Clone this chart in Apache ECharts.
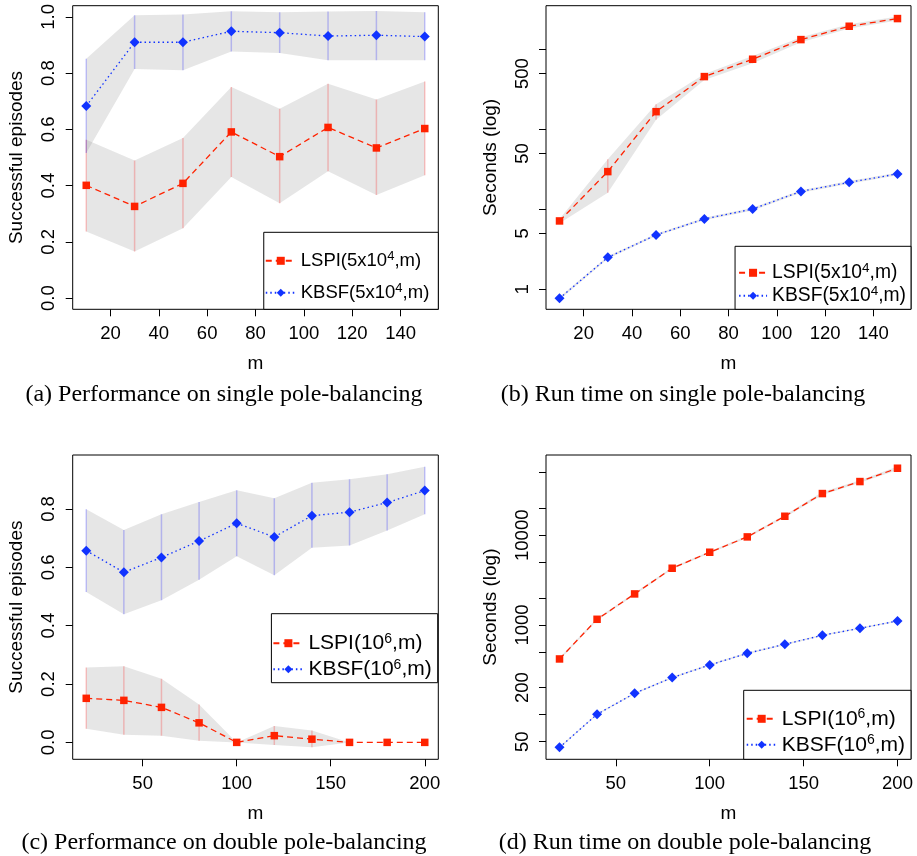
<!DOCTYPE html>
<html>
<head>
<meta charset="utf-8">
<script src="https://cdn.jsdelivr.net/npm/echarts@6/dist/echarts.min.js"></script>
<style>html,body{margin:0;padding:0;background:#fff}#c{width:917px;height:856px}</style>
</head>
<body>
<div id="c"></div>
<script>
// ---------- data ----------
const mSingle = [10, 30, 50, 70, 90, 110, 130, 150];
const mDouble = [20, 40, 60, 80, 100, 120, 140, 160, 180, 200];

// (a) performance, single pole
const lspiPerfA   = [0.401, 0.326, 0.408, 0.591, 0.503, 0.607, 0.534, 0.603];
const lspiPerfAHi = [0.563, 0.489, 0.569, 0.751, 0.673, 0.762, 0.706, 0.770];
const lspiPerfALo = [0.237, 0.166, 0.248, 0.431, 0.337, 0.451, 0.367, 0.437];
const kbsfPerfA   = [0.683, 0.910, 0.910, 0.949, 0.944, 0.932, 0.935, 0.930];
const kbsfPerfAHi = [0.851, 1.006, 1.009, 1.020, 1.017, 1.019, 1.021, 1.017];
const kbsfPerfALo = [0.516, 0.815, 0.810, 0.877, 0.872, 0.846, 0.846, 0.846];

// (b) run time, single pole (seconds)
const lspiTimeB   = [7.17, 29.7, 167, 459, 757, 1333, 1958, 2443];
const lspiTimeBHi = [7.6, 42.4, 207, 496, 832, 1426, 2073, 2587];
const lspiTimeBLo = [6.7, 16.2, 132, 417, 674, 1234, 1830, 2305];
const kbsfTimeB   = [0.771, 2.51, 4.79, 7.59, 10.1, 16.8, 21.8, 27.8];
const kbsfTimeBHi = [0.80, 2.60, 4.95, 7.85, 10.5, 17.4, 22.6, 28.8];
const kbsfTimeBLo = [0.74, 2.42, 4.63, 7.33, 9.7, 16.2, 21.0, 26.8];

// (c) performance, double pole
const lspiPerfC   = [0.151, 0.144, 0.120, 0.067, 0.0, 0.023, 0.011, 0.0, 0.0, 0.0];
const lspiPerfCHi = [0.257, 0.261, 0.218, 0.130, 0.0, 0.056, 0.041, 0.0, 0.0, 0.0];
const lspiPerfCLo = [0.047, 0.026, 0.023, 0.006, 0.0, -0.009, -0.017, 0.0, 0.0, 0.0];
const kbsfPerfC   = [0.657, 0.583, 0.634, 0.690, 0.751, 0.704, 0.777, 0.789, 0.822, 0.863];
const kbsfPerfCHi = [0.799, 0.728, 0.782, 0.824, 0.864, 0.837, 0.890, 0.902, 0.919, 0.945];
const kbsfPerfCLo = [0.515, 0.439, 0.487, 0.557, 0.638, 0.573, 0.667, 0.675, 0.726, 0.782];

// (d) run time, double pole (seconds)
const lspiTimeD   = [418, 1157, 2219, 4288, 6468, 9590, 16290, 29170, 39700, 55900];
const lspiTimeDHi = [430, 1190, 2280, 4400, 6650, 9850, 16800, 30300, 41000, 58500];
const lspiTimeDLo = [406, 1125, 2160, 4180, 6290, 9340, 15800, 28100, 38400, 53400];
const kbsfTimeD   = [43.2, 101, 173, 259, 358, 483, 609, 767, 918, 1109];
const kbsfTimeDHi = [44.2, 103, 177, 265, 366, 493, 622, 783, 937, 1132];
const kbsfTimeDLo = [42.2, 99, 169, 253, 350, 473, 596, 751, 899, 1086];

// tick values / labels
const xTicksSingle = [20, 40, 60, 80, 100, 120, 140];
const xTicksDouble = [50, 100, 150, 200];
const yTicksPerfA = [0.0, 0.2, 0.4, 0.6, 0.8, 1.0];
const yTicksPerfC = [0.0, 0.2, 0.4, 0.6, 0.8];
const yTicksTimeB = [1, 5, 10, 50, 100, 500, 1000];
const yLabelsTimeB = [1, 5, 50, 500];
const yTicksTimeD = [50, 100, 200, 500, 1000, 2000, 5000, 10000, 20000, 50000];
const yLabelsTimeD = [50, 200, 1000, 10000];

const seriesNamesSingle = ['LSPI(5x10^4,m)', 'KBSF(5x10^4,m)'];
const seriesNamesDouble = ['LSPI(10^6,m)', 'KBSF(10^6,m)'];
const captions = [
  '(a) Performance on single pole-balancing',
  '(b) Run time on single pole-balancing',
  '(c) Performance on double pole-balancing',
  '(d) Run time on double pole-balancing'
];

// ---------- styles ----------
const SANS = 'Liberation Sans, Arial, Helvetica, sans-serif';
const SERIF = 'Liberation Serif, Times New Roman, serif';
const RED = '#ff2200';
const BLUE = '#1133ff';
const RED_BAR = 'rgba(255,0,0,0.22)';
const BLUE_BAR = 'rgba(0,0,255,0.22)';
const BAND = 'rgba(128,128,128,0.2)';
const TICK_FS = 18.5;
const NAME_FS = 19;

const grids = [
  { left: 72.7, top: 5.7, width: 365.6, height: 303.6 },
  { left: 546, top: 5.7, width: 365, height: 303.6 },
  { left: 72.7, top: 455, width: 365.6, height: 304.3 },
  { left: 546, top: 455, width: 365, height: 304.3 }
].map(g => Object.assign({ show: true, borderColor: '#000', borderWidth: 1, backgroundColor: 'transparent', containLabel: false }, g));

function xAxisFor(gi, min, max, ticks) {
  return {
    type: 'value', gridIndex: gi, min: min, max: max, position: 'bottom',
    name: 'm', nameLocation: 'middle', nameGap: 45,
    nameTextStyle: { fontFamily: SANS, fontSize: NAME_FS, color: '#000' },
    axisLine: { show: false, onZero: false },
    splitLine: { show: false },
    axisTick: { show: true, inside: false, length: 7, customValues: ticks, lineStyle: { color: '#000', width: 1 } },
    axisLabel: { show: true, customValues: ticks, margin: 15, fontFamily: SANS, fontSize: TICK_FS, color: '#000' }
  };
}
function yAxisFor(gi, min, max, ticks, labels, name, fmt) {
  return {
    type: 'value', gridIndex: gi, min: min, max: max, position: 'left',
    name: name, nameLocation: 'middle', nameGap: 46, nameRotate: 90,
    nameTextStyle: { fontFamily: SANS, fontSize: NAME_FS, color: '#000' },
    axisLine: { show: false, onZero: false },
    splitLine: { show: false },
    axisTick: { show: true, inside: false, length: 7, customValues: ticks, lineStyle: { color: '#000', width: 1 } },
    axisLabel: { show: true, customValues: labels, rotate: 90, margin: 14, fontFamily: SANS, fontSize: TICK_FS, color: '#000', formatter: fmt }
  };
}
const log10 = v => Math.log10(v);
const powFmt = v => String(Math.round(Math.pow(10, v)));

const xAxes = [
  xAxisFor(0, 4.4, 155.6, xTicksSingle),
  xAxisFor(1, 4.4, 155.6, xTicksSingle),
  xAxisFor(2, 12.8, 207.2, xTicksDouble),
  xAxisFor(3, 12.8, 207.2, xTicksDouble)
];
const B_MIN = 0.562, B_MAX = 3540, D_MIN = 31.8, D_MAX = 78500;
const yAxes = [
  yAxisFor(0, -0.04, 1.04, yTicksPerfA, yTicksPerfA, 'Successful episodes', v => v.toFixed(1)),
  { type: 'log', gridIndex: 1, min: B_MIN, max: B_MAX, show: false, position: 'left', axisLine: { onZero: false } },
  yAxisFor(1, log10(B_MIN), log10(B_MAX), yTicksTimeB.map(log10), yLabelsTimeB.map(log10), 'Seconds (log)', powFmt),
  yAxisFor(2, -0.058, 0.985, yTicksPerfC, yTicksPerfC, 'Successful episodes', v => v.toFixed(1)),
  { type: 'log', gridIndex: 3, min: D_MIN, max: D_MAX, show: false, position: 'left', axisLine: { onZero: false } },
  yAxisFor(3, log10(D_MIN), log10(D_MAX), yTicksTimeD.map(log10), yLabelsTimeD.map(log10), 'Seconds (log)', powFmt)
];

function band(id, xs, lo, hi, xi, yi) {
  return {
    type: 'custom', name: id, xAxisIndex: xi, yAxisIndex: yi, silent: true, z: 1, clip: true,
    data: [[xs[0], hi[0]]],
    renderItem: function (params, api) {
      const pts = [];
      for (let i = 0; i < xs.length; i++) pts.push(api.coord([xs[i], hi[i]]));
      for (let i = xs.length - 1; i >= 0; i--) pts.push(api.coord([xs[i], lo[i]]));
      return { type: 'polygon', shape: { points: pts }, style: { fill: BAND, stroke: null } };
    }
  };
}
function bars(id, xs, lo, hi, xi, yi, color) {
  return {
    type: 'custom', name: id, xAxisIndex: xi, yAxisIndex: yi, silent: true, z: 2, clip: true,
    data: xs.map((x, i) => [x, lo[i], hi[i]]),
    encode: { x: 0, y: [1, 2] },
    renderItem: function (params, api) {
      const a = api.coord([api.value(0), api.value(1)]);
      const b = api.coord([api.value(0), api.value(2)]);
      return { type: 'line', shape: { x1: a[0], y1: a[1], x2: b[0], y2: b[1] }, style: { stroke: color, lineWidth: 1.5 } };
    }
  };
}
function lspiLine(name, xs, ys, xi, yi) {
  return {
    type: 'line', name: name, xAxisIndex: xi, yAxisIndex: yi, z: 3,
    data: xs.map((x, i) => [x, ys[i]]),
    symbol: 'rect', symbolSize: 7.5, showSymbol: true,
    itemStyle: { color: RED },
    lineStyle: { color: RED, width: 1.3, type: [6, 4] }
  };
}
function kbsfLine(name, xs, ys, xi, yi) {
  return {
    type: 'line', name: name, xAxisIndex: xi, yAxisIndex: yi, z: 3,
    data: xs.map((x, i) => [x, ys[i]]),
    symbol: 'diamond', symbolSize: 10, showSymbol: true,
    itemStyle: { color: BLUE },
    lineStyle: { color: BLUE, width: 1.3, type: [1.5, 3] }
  };
}

const series = [
  // (a)
  band('bandA1', mSingle, lspiPerfALo, lspiPerfAHi, 0, 0),
  band('bandA2', mSingle, kbsfPerfALo, kbsfPerfAHi, 0, 0),
  bars('barA1', mSingle, lspiPerfALo, lspiPerfAHi, 0, 0, RED_BAR),
  bars('barA2', mSingle, kbsfPerfALo, kbsfPerfAHi, 0, 0, BLUE_BAR),
  lspiLine(seriesNamesSingle[0], mSingle, lspiPerfA, 0, 0),
  kbsfLine(seriesNamesSingle[1], mSingle, kbsfPerfA, 0, 0),
  // (b)
  band('bandB1', mSingle, lspiTimeBLo, lspiTimeBHi, 1, 1),
  band('bandB2', mSingle, kbsfTimeBLo, kbsfTimeBHi, 1, 1),
  bars('barB1', mSingle, lspiTimeBLo, lspiTimeBHi, 1, 1, RED_BAR),
  bars('barB2', mSingle, kbsfTimeBLo, kbsfTimeBHi, 1, 1, BLUE_BAR),
  lspiLine(seriesNamesSingle[0], mSingle, lspiTimeB, 1, 1),
  kbsfLine(seriesNamesSingle[1], mSingle, kbsfTimeB, 1, 1),
  // (c)
  band('bandC1', mDouble, lspiPerfCLo, lspiPerfCHi, 2, 3),
  band('bandC2', mDouble, kbsfPerfCLo, kbsfPerfCHi, 2, 3),
  bars('barC1', mDouble, lspiPerfCLo, lspiPerfCHi, 2, 3, RED_BAR),
  bars('barC2', mDouble, kbsfPerfCLo, kbsfPerfCHi, 2, 3, BLUE_BAR),
  lspiLine(seriesNamesDouble[0], mDouble, lspiPerfC, 2, 3),
  kbsfLine(seriesNamesDouble[1], mDouble, kbsfPerfC, 2, 3),
  // (d)
  band('bandD1', mDouble, lspiTimeDLo, lspiTimeDHi, 3, 4),
  band('bandD2', mDouble, kbsfTimeDLo, kbsfTimeDHi, 3, 4),
  bars('barD1', mDouble, lspiTimeDLo, lspiTimeDHi, 3, 4, RED_BAR),
  bars('barD2', mDouble, kbsfTimeDLo, kbsfTimeDHi, 3, 4, BLUE_BAR),
  lspiLine(seriesNamesDouble[0], mDouble, lspiTimeD, 3, 4),
  kbsfLine(seriesNamesDouble[1], mDouble, kbsfTimeD, 3, 4)
];

function legendFor(names, right, bottom, padding, itemGap, fs, supFs, iw) {
  return {
    data: names, orient: 'vertical', right: right, bottom: bottom,
    padding: padding, itemGap: itemGap, itemWidth: iw, itemHeight: 10,
    backgroundColor: '#fff', borderColor: '#000', borderWidth: 1, borderRadius: 0,
    selectedMode: false, z: 10,
    textStyle: { fontFamily: SANS, fontSize: fs, color: '#000',
      rich: { sup: { fontFamily: SANS, fontSize: supFs, color: '#000', padding: [0, 0, Math.round(fs * 0.45), 0] } } },
    formatter: name => name.replace(/\^(\d+)/, '{sup|$1}')
  };
}
const legends = [
  legendFor(seriesNamesSingle, 478.7, 546.7, [18, 9, 7, 1], 12, 18.5, 13, 30),
  legendFor(seriesNamesSingle, 6, 546.7, [15, 5, 4, 3], 2, 19.3, 13.5, 28),
  legendFor(seriesNamesDouble, 479.3, 173.3, [18, 6, 3, 1], 4, 21, 14, 30),
  legendFor(seriesNamesDouble, 6, 96.7, [17, 6, 4, 2], 4, 21, 14, 30)
];

const capPos = [[224, 395], [683, 395], [224, 843], [685, 843]];
const graphics = captions.map((t, i) => ({
  type: 'text', x: capPos[i][0], y: capPos[i][1], z: 20,
  style: { text: t, font: '24px ' + SERIF, fill: '#000', align: 'center', verticalAlign: 'middle' }
}));

const chart = echarts.init(document.getElementById('c'), null, { renderer: 'canvas' });
chart.setOption({
  animation: false,
  backgroundColor: '#fff',
  grid: grids,
  xAxis: xAxes,
  yAxis: yAxes,
  legend: legends,
  series: series,
  graphic: graphics
});
</script>
</body>
</html>
